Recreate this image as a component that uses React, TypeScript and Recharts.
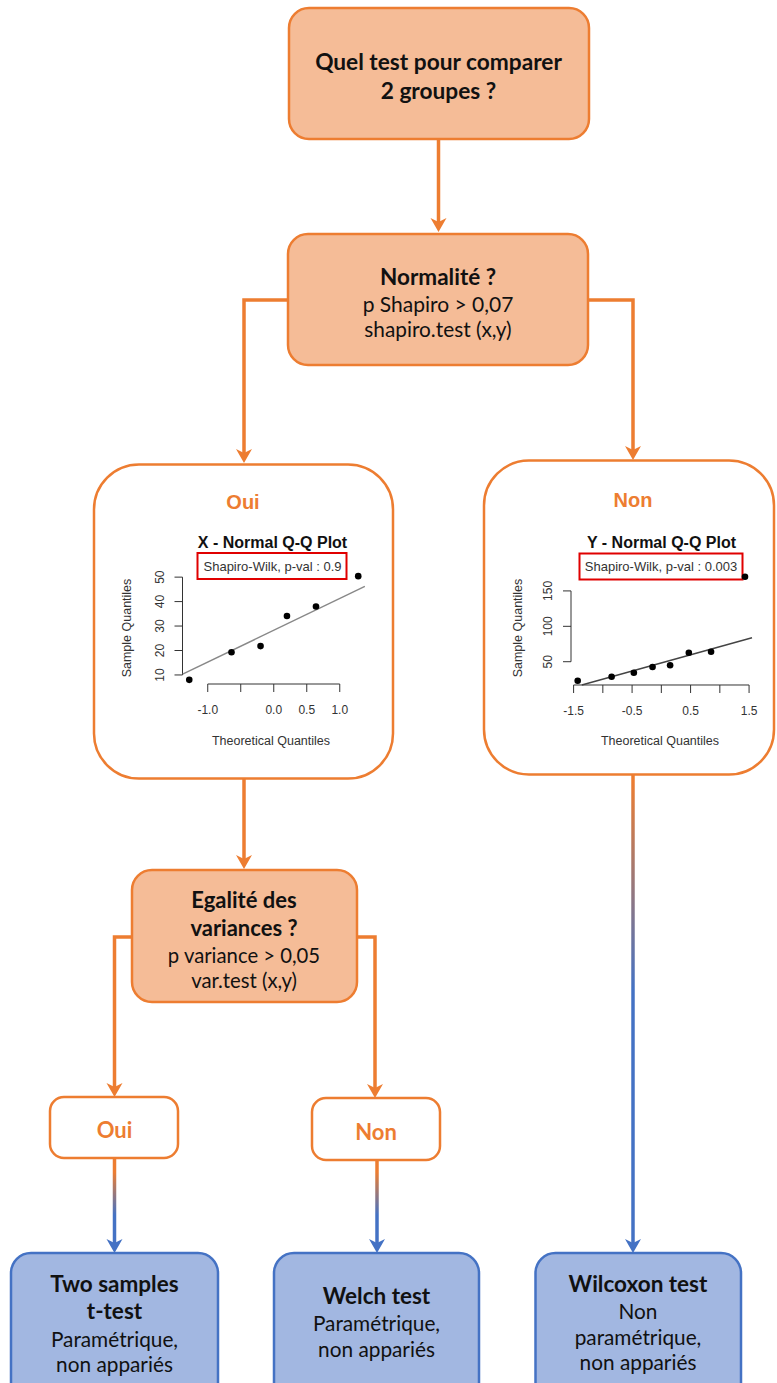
import React from 'react';
import { ScatterChart, Scatter, XAxis, YAxis, ReferenceLine } from 'recharts';

// X sample : theoretical vs sample quantiles (n = 6)
const xTheo = [-1.28, -0.64, -0.2, 0.2, 0.64, 1.28];
const xSample = [8, 19.3, 21.8, 34.1, 38, 50.4];
const xLineTheo = [-1.38, 1.38];
const xLineSample = [10.3, 46.2];
const xTicksTheo = [-1, -0.5, 0, 0.5, 1];
const xTickLabels = ['-1.0', '', '0.0', '0.5', '1.0'];
const xTicksSample = [10, 20, 30, 40, 50];

// Y sample (n = 8)
const yTheo = [-1.43, -0.85, -0.47, -0.15, 0.15, 0.47, 0.85, 1.43];
const ySample = [23, 28.8, 34.4, 42.5, 44.9, 62.7, 64.1, 170];
const yLineTheo = [-1.36, 1.55];
const yLineSample = [17.1, 83.9];
const yTicksTheo = [-1.5, -1, -0.5, 0, 0.5, 1, 1.5];
const yTickLabels = ['-1.5', '', '-0.5', '', '0.5', '', '1.5'];
const yTicksSample = [50, 100, 150];

const ORANGE = '#ED7D31';
const PEACH = '#F5BC97';
const BLUE = '#4472C4';
const LIGHTBLUE = '#A2B7E1';
const CAL = 'Lato, "Noto Sans", sans-serif';
const ARIAL = '"Liberation Sans", Arial, sans-serif';

// R style axis range : data range + 4%
const rRange = (v: number[]): [number, number] => {
  const lo = Math.min(...v);
  const hi = Math.max(...v);
  const d = (hi - lo) * 0.04;
  return [lo - d, hi + d];
};

const RotTick = (props: any) => {
  const { x, y, payload } = props;
  return (
    <text x={x} y={y} dy="0.35em" transform={`rotate(-90 ${x} ${y})`} textAnchor="middle"
      fill="#333" fontSize={12} fontFamily={ARIAL}>
      {payload.value}
    </text>
  );
};

const Dot = (p: any) => <circle cx={p.cx} cy={p.cy} r={3.3} fill="#000" />;
const NoDot = () => <g />;

type QQProps = {
  theo: number[];
  sample: number[];
  lineTheo: number[];
  lineSample: number[];
  xTicks: number[];
  xLabels: string[];
  yTicks: number[];
  lineColor: string;
  left: number;
  margin: { top: number; right: number; bottom: number; left: number };
};

const QQPlot = ({ theo, sample, lineTheo, lineSample, xTicks, xLabels, yTicks, lineColor, left, margin }: QQProps) => {
  const pts = theo.map((x, i) => ({ x, y: sample[i] }));
  const line = lineTheo.map((x, i) => ({ x, y: lineSample[i] }));
  const xDom = rRange(theo);
  const yDom = rRange(sample);
  return (
    <div style={{ position: 'absolute', left, top: 520 }}>
      <ScatterChart width={280} height={240} margin={margin}>
        <XAxis type="number" dataKey="x" domain={xDom} ticks={xTicks} interval={0}
          axisLine={false} tickSize={8} tickMargin={13}
          tickLine={{ stroke: '#333' }}
          tick={{ fill: '#333', fontSize: 12, fontFamily: ARIAL }}
          tickFormatter={(v: number) => xLabels[xTicks.indexOf(v)] ?? ''}
          height={62} />
        <YAxis type="number" dataKey="y" domain={yDom} ticks={yTicks} interval={0}
          axisLine={false} tickSize={8} tickMargin={15}
          tickLine={{ stroke: '#333' }}
          tick={<RotTick />} width={60} />
        <ReferenceLine ifOverflow="visible" stroke="#333"
          segment={[{ x: xTicks[0], y: yDom[0] }, { x: xTicks[xTicks.length - 1], y: yDom[0] }]} />
        <ReferenceLine ifOverflow="visible" stroke="#333"
          segment={[{ x: xDom[0], y: yTicks[0] }, { x: xDom[0], y: yTicks[yTicks.length - 1] }]} />
        <Scatter data={line} shape={NoDot} line={{ stroke: lineColor, strokeWidth: 1.4 }} isAnimationActive={false} />
        <Scatter data={pts} shape={Dot} isAnimationActive={false} />
      </ScatterChart>
    </div>
  );
};

const T = ({ x, y, size, bold, color, font, children }: any) => (
  <text x={x} y={y} textAnchor="middle" dominantBaseline="central" fontSize={size}
    fontWeight={bold ? 700 : 400} fill={color || '#111'} fontFamily={font || CAL}>
    {children}
  </text>
);

const Arrow = ({ x, y, color }: any) => (
  <path d={`M ${x - 8} ${y - 14} L ${x} ${y} L ${x + 8} ${y - 14} L ${x} ${y - 10} Z`} fill={color} />
);

export default function App() {
  return (
    <div style={{ position: 'absolute', left: 0, top: 0, width: 777, height: 1383, overflow: 'hidden', background: '#fff' }}>
      <svg width={777} height={1383} style={{ position: 'absolute', left: 0, top: 0 }}>
        <defs>
          <linearGradient id="g1" gradientUnits="userSpaceOnUse" x1="0" y1="1172" x2="0" y2="1215">
            <stop offset="0" stopColor={ORANGE} />
            <stop offset="1" stopColor={BLUE} />
          </linearGradient>
          <linearGradient id="g2" gradientUnits="userSpaceOnUse" x1="0" y1="780" x2="0" y2="990">
            <stop offset="0" stopColor={ORANGE} />
            <stop offset="1" stopColor={BLUE} />
          </linearGradient>
        </defs>

        {/* connectors */}
        <g fill="none" strokeWidth={3.5}>
          <path d="M 438.5 139 V 226" stroke={ORANGE} />
          <path d="M 289 300 H 244 V 456" stroke={ORANGE} />
          <path d="M 588 300 H 633 V 453" stroke={ORANGE} />
          <path d="M 244 779 V 862" stroke={ORANGE} />
          <path d="M 133 937 H 114.5 V 1090" stroke={ORANGE} />
          <path d="M 356 937 H 375 V 1091" stroke={ORANGE} />
          <path d="M 114.5 1158 V 1246" stroke="url(#g1)" />
          <path d="M 377 1160 V 1246" stroke="url(#g1)" />
          <path d="M 633 775 V 1246" stroke="url(#g2)" />
        </g>
        <Arrow x={438.5} y={232} color={ORANGE} />
        <Arrow x={244} y={463} color={ORANGE} />
        <Arrow x={633} y={460} color={ORANGE} />
        <Arrow x={244} y={869} color={ORANGE} />
        <Arrow x={114.5} y={1097} color={ORANGE} />
        <Arrow x={375} y={1098} color={ORANGE} />
        <Arrow x={114.5} y={1253} color={BLUE} />
        <Arrow x={377} y={1253} color={BLUE} />
        <Arrow x={633} y={1253} color={BLUE} />

        {/* boxes */}
        <g strokeWidth={2.5}>
          <rect x={289} y={8} width={300} height={131} rx={20} fill={PEACH} stroke={ORANGE} />
          <rect x={288} y={234} width={300} height={131} rx={20} fill={PEACH} stroke={ORANGE} />
          <rect x={94} y={464.5} width={299} height={314} rx={45} fill="#fff" stroke={ORANGE} />
          <rect x={484} y={460.5} width={290} height={314} rx={45} fill="#fff" stroke={ORANGE} />
          <rect x={132} y={870} width={225} height={132} rx={20} fill={PEACH} stroke={ORANGE} />
          <rect x={50} y={1097} width={128} height={61} rx={14} fill="#fff" stroke={ORANGE} />
          <rect x={312} y={1098} width={128} height={62} rx={14} fill="#fff" stroke={ORANGE} />
          <rect x={11} y={1253} width={207} height={150} rx={20} fill={LIGHTBLUE} stroke={BLUE} />
          <rect x={274} y={1253} width={205} height={150} rx={20} fill={LIGHTBLUE} stroke={BLUE} />
          <rect x={535.5} y={1253} width={205.5} height={150} rx={20} fill={LIGHTBLUE} stroke={BLUE} />
        </g>

        {/* texts */}
        <T x={438.5} y={61.5} size={22.7} bold>Quel test pour comparer</T>
        <T x={438.5} y={90} size={22.7} bold>2 groupes ?</T>

        <T x={438} y={276.5} size={22.5} bold>Normalité ?</T>
        <T x={438} y={303} size={21}>p Shapiro &gt; 0,07</T>
        <T x={438} y={328} size={20.8}>shapiro.test (x,y)</T>

        <T x={243} y={502} size={20} bold color={ORANGE} font={ARIAL}>Oui</T>
        <T x={633} y={500} size={20} bold color={ORANGE} font={ARIAL}>Non</T>

        <T x={244} y={899.5} size={22} bold>Egalité des</T>
        <T x={244} y={927} size={22} bold>variances ?</T>
        <T x={244} y={955} size={20.3}>p variance &gt; 0,05</T>
        <T x={244} y={980} size={20.3}>var.test (x,y)</T>

        <T x={114.5} y={1129} size={22} bold color={ORANGE}>Oui</T>
        <T x={376} y={1131} size={22} bold color={ORANGE}>Non</T>

        <T x={114.5} y={1283} size={22.5} bold>Two samples</T>
        <T x={114.5} y={1310} size={22.5} bold>t-test</T>
        <T x={114.5} y={1338} size={20.8}>Paramétrique,</T>
        <T x={114.5} y={1363} size={20.8}>non appariés</T>

        <T x={376.5} y={1295} size={22.5} bold>Welch test</T>
        <T x={376.5} y={1322} size={20.8}>Paramétrique,</T>
        <T x={376.5} y={1348} size={20.8}>non appariés</T>

        <T x={638} y={1283} size={22.5} bold>Wilcoxon test</T>
        <T x={638} y={1310} size={20.8}>Non</T>
        <T x={638} y={1336} size={20.8}>paramétrique,</T>
        <T x={638} y={1361} size={20.8}>non appariés</T>

        {/* Q-Q plot decorations */}
        <T x={272.5} y={542.5} size={16} bold font={ARIAL}>X - Normal Q-Q Plot</T>
        <rect x={197.5} y={553} width={149} height={26} fill="none" stroke="#E00000" strokeWidth={2} />
        <T x={272.5} y={566} size={13} color="#333" font={ARIAL}>Shapiro-Wilk, p-val : 0.9</T>
        <T x={271} y={741} size={12.5} color="#333" font={ARIAL}>Theoretical Quantiles</T>
        <g transform="rotate(-90 126.5 628)"><T x={126.5} y={628} size={12.5} color="#333" font={ARIAL}>Sample Quantiles</T></g>

        <T x={661.5} y={542.5} size={16} bold font={ARIAL}>Y - Normal Q-Q Plot</T>
        <rect x={579.5} y={553.5} width={163} height={26} fill="none" stroke="#E00000" strokeWidth={2} />
        <T x={661} y={566.5} size={13} color="#333" font={ARIAL}>Shapiro-Wilk, p-val : 0.003</T>
        <T x={660} y={741} size={12.5} color="#333" font={ARIAL}>Theoretical Quantiles</T>
        <g transform="rotate(-90 517.5 628)"><T x={517.5} y={628} size={12.5} color="#333" font={ARIAL}>Sample Quantiles</T></g>
      </svg>

      <QQPlot theo={xTheo} sample={xSample} lineTheo={xLineTheo} lineSample={xLineSample}
        xTicks={xTicksTheo} xLabels={xTickLabels} yTicks={xTicksSample} lineColor="#888"
        left={100} margin={{ top: 52, right: 15, bottom: 14, left: 22.5 }} />
      <QQPlot theo={yTheo} sample={ySample} lineTheo={yLineTheo} lineSample={yLineSample}
        xTicks={yTicksTheo} xLabels={yTickLabels} yTicks={yTicksSample} lineColor="#444"
        left={490} margin={{ top: 52.6, right: 18, bottom: 13, left: 21 }} />
    </div>
  );
}
